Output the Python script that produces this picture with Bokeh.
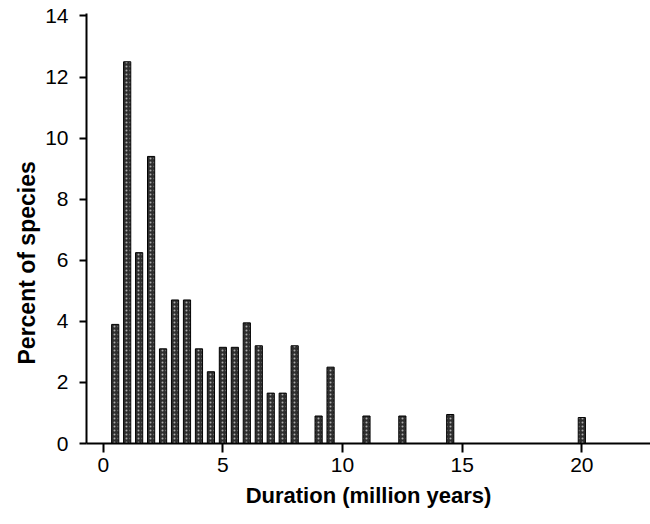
from bokeh.plotting import figure
from bokeh.models import Range1d, FixedTicker, Title
from bokeh.embed import file_html
from bokeh.resources import INLINE

# Data (duration bins in million years, percent of species)
durations = [0.5, 1.0, 1.5, 2.0, 2.5, 3.0, 3.5, 4.0, 4.5, 5.0, 5.5, 6.0, 6.5,
             7.0, 7.5, 8.0, 9.0, 9.5, 11.0, 12.5, 14.5, 20.0]
percents = [3.9, 12.5, 6.25, 9.4, 3.1, 4.7, 4.7, 3.1, 2.35, 3.15, 3.15, 3.95, 3.2,
            1.65, 1.65, 3.2, 0.9, 2.5, 0.9, 0.9, 0.95, 0.85]
x_ticks = [0, 5, 10, 15, 20]
y_ticks = [0, 2, 4, 6, 8, 10, 12, 14]

FONT = "Liberation Sans"

p = figure(width=650, height=524, output_backend="svg", toolbar_location=None,
           x_range=Range1d(-0.70, 22.87), y_range=Range1d(0, 14.08),
           min_border_left=86, min_border_right=0, min_border_top=13,
           min_border_bottom=81)

p.vbar(x=durations, top=percents, width=0.3, bottom=0,
       fill_color="#2e2e2e", line_color="black", line_width=1,
       hatch_pattern="dot", hatch_color="white", hatch_alpha=0.6,
       hatch_scale=4, hatch_weight=1)

p.xgrid.visible = False
p.ygrid.visible = False
p.outline_line_color = None
p.background_fill_color = "white"
p.border_fill_color = "white"

xa = p.xaxis[0]
xa.ticker = FixedTicker(ticks=x_ticks)
xa.axis_label = "Duration (million years)"
xa.axis_label_text_font = FONT
xa.axis_label_text_font_style = "bold"
xa.axis_label_text_font_size = "22px"
xa.axis_label_text_color = "black"
xa.axis_label_standoff = 8
xa.major_label_text_font = FONT
xa.major_label_text_font_size = "21px"
xa.major_label_text_color = "black"
xa.major_label_standoff = 5
xa.axis_line_width = 2
xa.axis_line_color = "black"
xa.major_tick_line_width = 2
xa.major_tick_line_color = "black"
xa.major_tick_out = 9
xa.major_tick_in = 0
xa.minor_tick_line_color = None

ya = p.yaxis[0]
ya.ticker = FixedTicker(ticks=y_ticks)
ya.major_label_text_font = FONT
ya.major_label_text_font_size = "21px"
ya.major_label_text_color = "black"
ya.major_label_standoff = 11
ya.axis_line_width = 2
ya.axis_line_color = "black"
ya.major_tick_line_width = 2
ya.major_tick_line_color = "black"
ya.major_tick_out = 7
ya.major_tick_in = 0
ya.minor_tick_line_color = None

# y-axis title as a side title, shifted lower like in the reference
ytitle = Title(text="Percent of species", align="left", offset=79,
               text_font=FONT, text_font_style="bold", text_font_size="23px",
               text_color="black", standoff=6)
p.add_layout(ytitle, "left")

open("out.html", "w").write(file_html(p, INLINE))
